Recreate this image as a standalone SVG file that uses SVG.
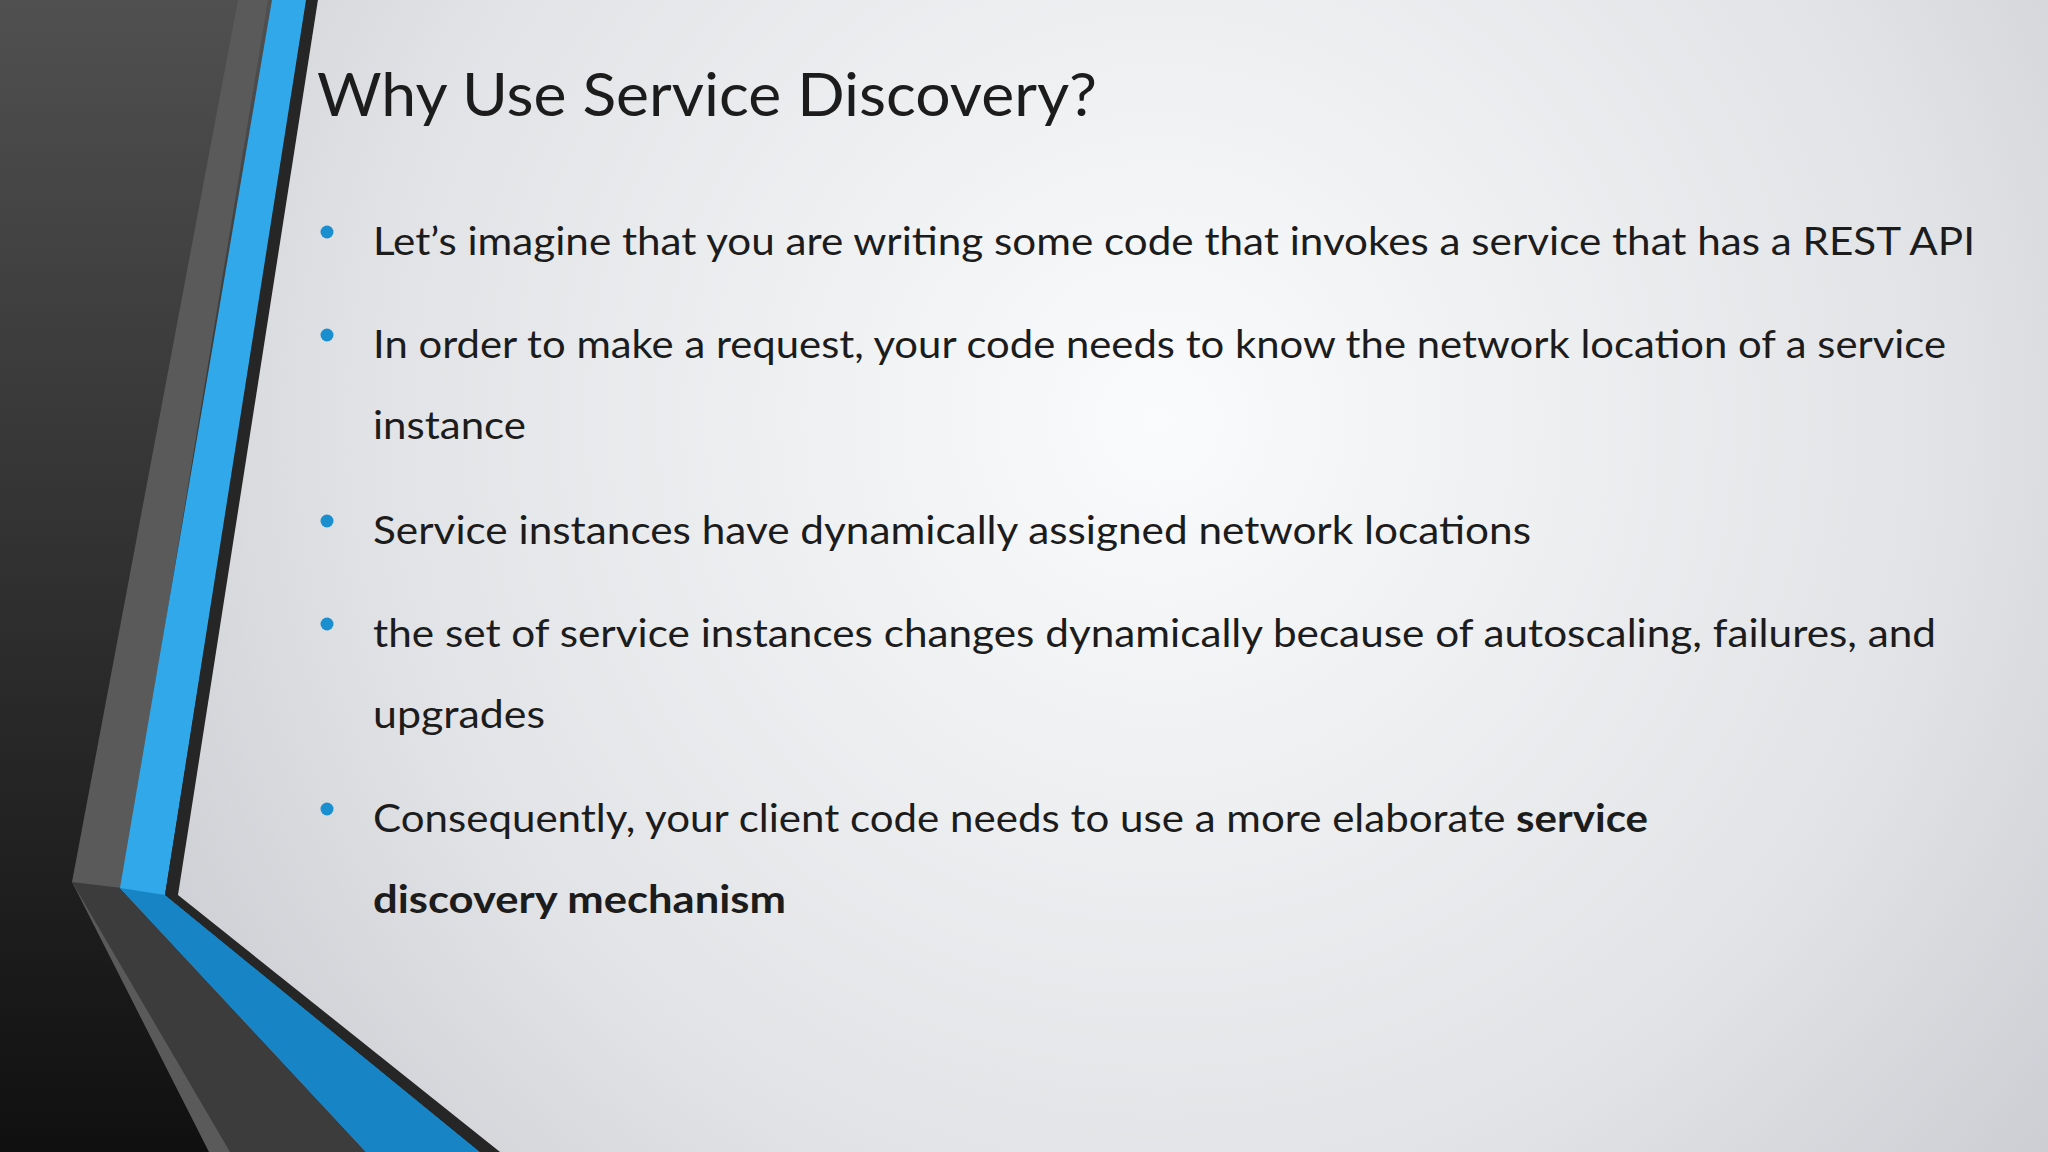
<svg xmlns="http://www.w3.org/2000/svg" width="2048" height="1152" viewBox="0 0 2048 1152">
<defs>
<radialGradient id="bg" cx="1160" cy="420" r="1300" gradientUnits="userSpaceOnUse">
<stop offset="0" stop-color="#fafbfc"/><stop offset="0.6" stop-color="#e2e3e6"/><stop offset="1" stop-color="#c4c5cb"/>
</radialGradient>
<linearGradient id="dark" x1="0" y1="0" x2="0" y2="1">
<stop offset="0" stop-color="#505050"/><stop offset="1" stop-color="#101010"/>
</linearGradient>
<style>
.t{font-family:Lato,"Open Sans",sans-serif;fill:#1c1c1c}
.b{font-size:39px}
.d{fill:#1a8fd0}
</style>
</defs>
<rect width="2048" height="1152" fill="url(#dark)"/>
<polygon points="238,0 268,0 122,888 370,1152 209,1152 72,882" fill="#5a5a5a"/>
<polygon points="72,882 122,888 370,1152 230,1152" fill="#3c3c3c"/>
<polygon points="272,0 308,0 165,895 480,1152 366,1152 120,888" fill="#30a8ea"/>
<polygon points="120,888 165,895 480,1152 366,1152" fill="#1784c6"/>
<polygon points="306,0 318,0 178,895 500,1152 480,1152 165,895" fill="#262626"/>
<polygon points="318,0 2048,0 2048,1152 500,1152 178,895" fill="url(#bg)"/>
<text class="t" x="317" y="116" font-size="60" textLength="780" lengthAdjust="spacingAndGlyphs">Why Use Service Discovery?</text>
<g>
<circle class="d" cx="327" cy="232" r="6.5"/>
<circle class="d" cx="327" cy="335" r="6.5"/>
<circle class="d" cx="327" cy="521" r="6.5"/>
<circle class="d" cx="327" cy="624" r="6.5"/>
<circle class="d" cx="327" cy="809" r="6.5"/>
</g>
<text class="t b" x="373" y="255" textLength="1602" lengthAdjust="spacingAndGlyphs">Let’s imagine that you are writing some code that invokes a service that has a REST API</text>
<text class="t b" x="373" y="358" textLength="1573" lengthAdjust="spacingAndGlyphs">In order to make a request, your code needs to know the network location of a service</text>
<text class="t b" x="373" y="439" textLength="153" lengthAdjust="spacingAndGlyphs">instance</text>
<text class="t b" x="373" y="544" textLength="1158" lengthAdjust="spacingAndGlyphs">Service instances have dynamically assigned network locations</text>
<text class="t b" x="373" y="647" textLength="1563" lengthAdjust="spacingAndGlyphs">the set of service instances changes dynamically because of autoscaling, failures, and</text>
<text class="t b" x="373" y="728" textLength="172" lengthAdjust="spacingAndGlyphs">upgrades</text>
<text class="t b" x="373" y="832" textLength="1275" lengthAdjust="spacingAndGlyphs">Consequently, your client code needs to use a more elaborate <tspan font-weight="bold">service</tspan></text>
<text class="t b" x="373" y="913" font-weight="bold" textLength="413" lengthAdjust="spacingAndGlyphs">discovery mechanism</text>
</svg>
